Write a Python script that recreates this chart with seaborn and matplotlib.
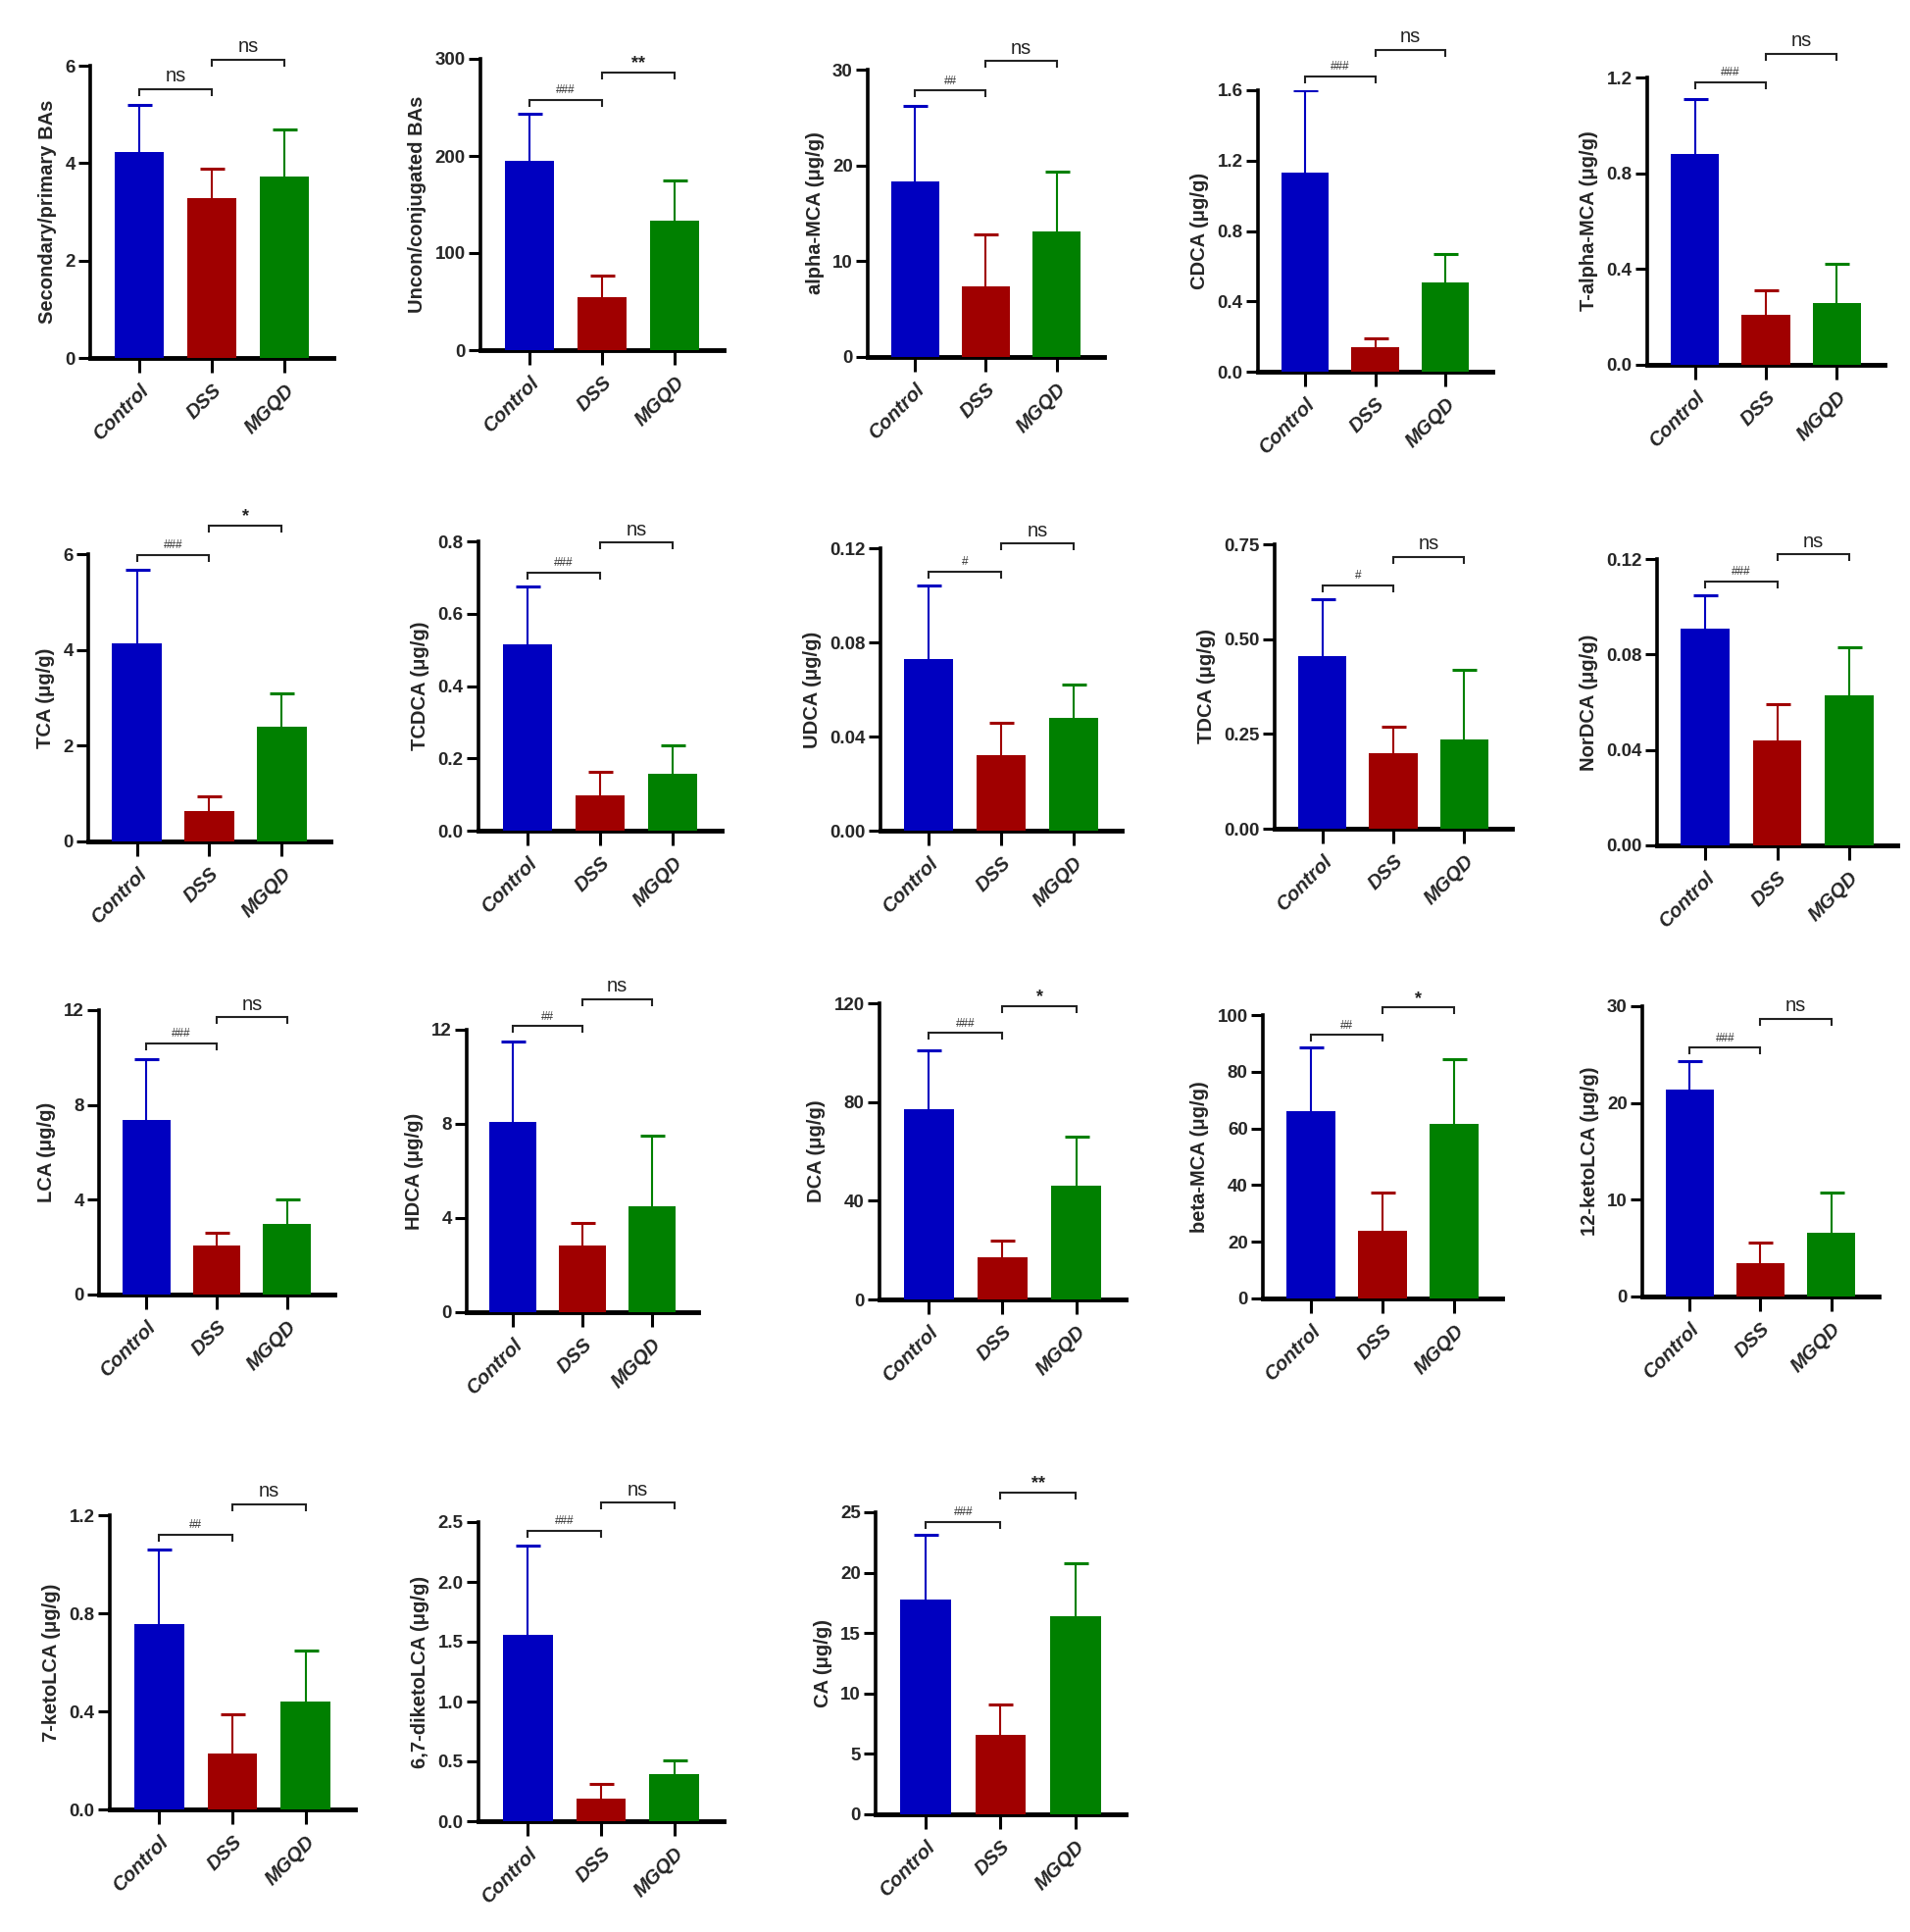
import matplotlib
matplotlib.use("Agg")
import matplotlib.pyplot as plt
import seaborn as sns
import pandas as pd
import numpy as np

sns.set_theme(style="ticks")
plt.rcParams["font.family"] = ["Liberation Sans", "DejaVu Sans"]

# ---------------- data ----------------
groups = ["Control", "DSS", "MGQD"]
panel_labels = [
    "Secondary/primary BAs", "Uncon/conjugated BAs", "alpha-MCA (μg/g)", "CDCA (μg/g)", "T-alpha-MCA (μg/g)",
    "TCA (μg/g)", "TCDCA (μg/g)", "UDCA (μg/g)", "TDCA (μg/g)", "NorDCA (μg/g)",
    "LCA (μg/g)", "HDCA (μg/g)", "DCA (μg/g)", "beta-MCA (μg/g)", "12-ketoLCA (μg/g)",
    "7-ketoLCA (μg/g)", "6,7-diketoLCA (μg/g)", "CA (μg/g)",
]
control_mean = [4.22, 195, 18.3, 1.13, 0.88, 4.13, 0.515, 0.073, 0.455, 0.091,
                7.35, 8.1, 77, 66, 21.4, 0.755, 1.56, 17.8]
control_upper = [5.2, 243, 26.2, 1.6, 1.11, 5.68, 0.675, 0.104, 0.605, 0.105,
                 9.95, 11.5, 101, 88.5, 24.3, 1.06, 2.3, 23.1]
dss_mean = [3.28, 55, 7.4, 0.14, 0.21, 0.63, 0.097, 0.032, 0.198, 0.044,
            2.05, 2.85, 17, 24, 3.4, 0.23, 0.19, 6.6]
dss_upper = [3.88, 77, 12.8, 0.19, 0.31, 0.95, 0.163, 0.046, 0.268, 0.059,
             2.6, 3.8, 24, 37.5, 5.6, 0.39, 0.31, 9.1]
mgqd_mean = [3.72, 133, 13.1, 0.51, 0.26, 2.4, 0.157, 0.048, 0.235, 0.063,
             3.0, 4.5, 46, 61.5, 6.6, 0.44, 0.39, 16.4]
mgqd_upper = [4.7, 175, 19.4, 0.67, 0.42, 3.1, 0.237, 0.062, 0.42, 0.083,
              4.0, 7.5, 66, 84.5, 10.7, 0.65, 0.51, 20.8]
sig_dss_vs_control = ["ns", "###", "##", "###", "###", "###", "###", "#", "#", "###",
                      "###", "##", "###", "##", "###", "##", "###", "###"]
sig_mgqd_vs_dss = ["ns", "**", "ns", "ns", "ns", "*", "ns", "ns", "ns", "ns",
                   "ns", "ns", "*", "*", "ns", "ns", "ns", "**"]
y_max = [6, 300, 30, 1.6, 1.2, 6, 0.8, 0.12, 0.75, 0.12, 12, 12, 120, 100, 30, 1.2, 2.5, 25]
y_step = [2, 100, 10, 0.4, 0.4, 2, 0.2, 0.04, 0.25, 0.04, 4, 4, 40, 20, 10, 0.4, 0.5, 5]
y_decimals = [0, 0, 0, 1, 1, 0, 1, 2, 2, 2, 0, 0, 0, 0, 0, 1, 1, 0]

# ---------------- layout (pixels: left, right, top, bottom) ----------------
boxes = [
    (92, 340, 67, 365), (490, 738, 60, 357), (885, 1126, 71, 364), (1283, 1522, 92, 379), (1680, 1922, 79, 372),
    (90, 337, 565, 858), (488, 736, 552, 847), (898, 1144, 559, 847), (1300, 1542, 555, 845), (1690, 1935, 570, 862),
    (101, 341, 1030, 1320), (476, 712, 1050, 1338), (897, 1148, 1023, 1325), (1288, 1532, 1035, 1324), (1675, 1916, 1026, 1322),
    (112, 362, 1545, 1845), (488, 738, 1552, 1857), (893, 1148, 1542, 1850),
]
bracket1_y = [5.52, 258, 27.8, 1.68, 1.18, 5.98, 0.714, 0.110, 0.642, 0.1107,
              10.6, 12.15, 108, 93, 25.7, 1.12, 2.43, 24.2]
bracket2_y = [6.13, 286, 30.9, 1.83, 1.30, 6.6, 0.796, 0.122, 0.717, 0.122,
              11.7, 13.3, 119, 102.6, 28.7, 1.246, 2.66, 26.6]

palette = {"Control": "#0000C0", "DSS": "#A00000", "MGQD": "#008000"}
W, H = 1949, 1970

fig = plt.figure(figsize=(W / 100, H / 100), dpi=100)
fig.patch.set_facecolor("white")


def bracket(ax, x1, x2, y, text, drop):
    ax.plot([x1, x1, x2, x2], [y - drop, y, y, y - drop], color="#222222", lw=1.5,
            clip_on=False, solid_capstyle="butt", solid_joinstyle="miter")
    if text == "ns":
        ax.text((x1 + x2) / 2, y + drop * 0.5, text, ha="center", va="bottom",
                fontsize=14.5, color="#222222", clip_on=False)
    elif text.startswith("*"):
        ax.text((x1 + x2) / 2, y + drop * 0.1, text, ha="center", va="bottom",
                fontsize=13, fontweight="bold", color="#222222", clip_on=False)
    else:
        ax.text((x1 + x2) / 2, y + drop * 0.5, text, ha="center", va="bottom",
                fontsize=8.5, color="#333333", clip_on=False)


for i, label in enumerate(panel_labels):
    l, r, t, b = boxes[i]
    ax = fig.add_axes([l / W, 1 - b / H, (r - l) / W, (b - t) / H])
    df = pd.DataFrame({
        "group": groups,
        "value": [control_mean[i], dss_mean[i], mgqd_mean[i]],
        "upper": [control_upper[i], dss_upper[i], mgqd_upper[i]],
    })
    sns.barplot(data=df, x="group", y="value", hue="group", palette=palette,
                order=groups, hue_order=groups, width=0.68, legend=False,
                errorbar=None, saturation=1, linewidth=0, ax=ax, zorder=3)
    for k, g in enumerate(groups):
        m = df["value"][k]
        u = df["upper"][k]
        eb = ax.errorbar([k], [m], yerr=[[0], [u - m]], fmt="none", ecolor=palette[g],
                         elinewidth=1.5, capsize=9, capthick=2.2, zorder=2)
        caps = eb[1]
        if len(caps) == 2:
            caps[0].set_visible(False)
    ax.set_xlim(-0.67, 2.67)
    ax.set_ylim(0, y_max[i])
    ticks = np.round(np.arange(0, y_max[i] + y_step[i] / 2, y_step[i]), 4)
    ax.set_yticks(ticks)
    ax.set_yticklabels([f"{v:.{y_decimals[i]}f}" for v in ticks],
                       fontsize=13.5, fontweight="bold")
    ax.set_xticks(range(3))
    ax.set_xticklabels(groups, rotation=45, ha="right", rotation_mode="anchor",
                       fontsize=14.5, fontweight="bold", fontstyle="italic")
    ax.set_xlabel("")
    ax.set_ylabel(label, fontsize=14.5, fontweight="bold", labelpad=6)
    for s in ["top", "right"]:
        ax.spines[s].set_visible(False)
    ax.spines["left"].set_linewidth(2.6)
    ax.spines["bottom"].set_linewidth(3.5)
    ax.spines["left"].set_color("black")
    ax.spines["bottom"].set_color("black")
    ax.tick_params(axis="y", direction="out", length=9, width=2.2, color="black", pad=2)
    ax.tick_params(axis="x", direction="out", length=11, width=2.2, color="black", pad=6)
    ax.set_facecolor("white")
    ax.grid(False)

    ppu = (b - t) / y_max[i]
    drop = 7 / ppu
    bracket(ax, 0, 1, bracket1_y[i], sig_dss_vs_control[i], drop)
    bracket(ax, 1, 2, bracket2_y[i], sig_mgqd_vs_dss[i], drop)

fig.savefig("out.png", dpi=100, facecolor="white")
